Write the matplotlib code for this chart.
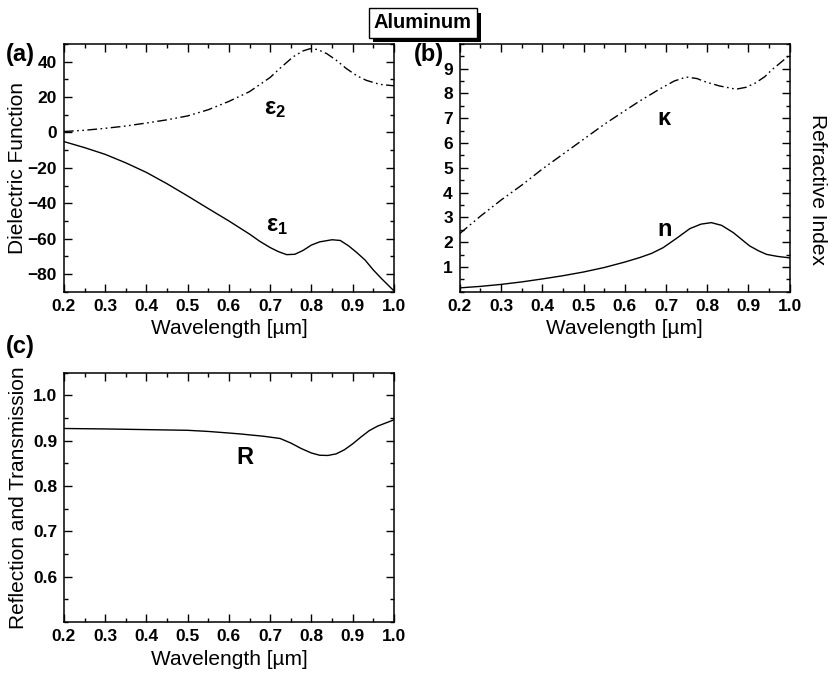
"""
Aluminum: dielectric function, refractive index and reflectance vs. wavelength.
"""

import matplotlib
matplotlib.use('Agg')
import matplotlib.pyplot as plt
import matplotlib.patheffects as pe
from matplotlib.ticker import MultipleLocator, FormatStrFormatter

plt.rcParams['font.family'] = ['Liberation Sans', 'DejaVu Sans']
plt.rcParams['mathtext.fontset'] = 'custom'
plt.rcParams['mathtext.rm'] = 'Liberation Sans'
plt.rcParams['mathtext.bf'] = 'Liberation Sans:bold'
plt.rcParams['axes.linewidth'] = 1.1

# --- Daten ---
wl_eps1 = [0.2, 0.25, 0.3, 0.35, 0.4, 0.45, 0.5, 0.55, 0.6, 0.65, 0.675, 0.7,
           0.72, 0.74, 0.76, 0.78, 0.8, 0.82, 0.85, 0.87, 0.89, 0.91, 0.93,
           0.95, 0.97, 1.0]
eps1 = [-5.2, -8.6, -12.4, -17.2, -22.6, -29.0, -35.9, -43.0, -50.0, -57.4,
        -61.5, -65.0, -67.3, -69.0, -68.8, -66.6, -63.6, -61.8, -60.6, -61.0,
        -64.0, -67.8, -72.0, -77.6, -82.5, -89.4]

wl_eps2 = [0.2, 0.25, 0.3, 0.35, 0.4, 0.45, 0.5, 0.55, 0.6, 0.65, 0.675, 0.7,
           0.723, 0.756, 0.78, 0.796, 0.815, 0.837, 0.86, 0.885, 0.91, 0.933,
           0.966, 1.0]
eps2 = [0.5, 1.2, 2.3, 3.6, 5.3, 7.1, 9.3, 12.8, 17.5, 23.0, 27.0, 31.0,
        36.0, 42.7, 46.0, 47.2, 46.8, 44.5, 40.8, 36.0, 32.0, 29.4,
        27.1, 26.3]

wl_kappa = [0.2, 0.25, 0.3, 0.35, 0.4, 0.45, 0.5, 0.55, 0.6, 0.636, 0.684,
            0.72, 0.749, 0.775, 0.797, 0.83, 0.87, 0.895, 0.918, 0.94, 0.958,
            0.975, 1.0]
kappa = [2.35, 3.05, 3.7, 4.3, 4.95, 5.55, 6.15, 6.75, 7.3, 7.69, 8.17,
         8.5, 8.66, 8.6, 8.46, 8.3, 8.17, 8.25, 8.43, 8.68, 8.97,
         9.2, 9.55]

wl_n = [0.2, 0.25, 0.3, 0.35, 0.4, 0.45, 0.5, 0.55, 0.6, 0.636, 0.665, 0.693,
        0.725, 0.758, 0.785, 0.81, 0.835, 0.863, 0.883, 0.903, 0.925, 0.944,
        0.97, 1.0]
n_idx = [0.16, 0.22, 0.3, 0.4, 0.52, 0.65, 0.8, 0.98, 1.2, 1.38, 1.55, 1.78,
         2.15, 2.55, 2.73, 2.79, 2.68, 2.39, 2.12, 1.85, 1.65, 1.51,
         1.43, 1.37]

wl_R = [0.2, 0.3, 0.4, 0.5, 0.55, 0.6, 0.627, 0.683, 0.724, 0.75, 0.775, 0.8,
        0.82, 0.84, 0.86, 0.88, 0.9, 0.92, 0.94, 0.96, 0.98, 1.0]
R = [0.927, 0.926, 0.9245, 0.923, 0.9205, 0.917, 0.915, 0.910, 0.905, 0.895,
     0.883, 0.873, 0.868, 0.8675, 0.871, 0.880, 0.893, 0.908, 0.922, 0.932,
     0.939, 0.946]

dashdotdot = (0, (7, 2.5, 1.2, 2.5, 1.2, 2.5))
lw = 1.0

fig = plt.figure(figsize=(8.33, 6.74), dpi=100)
ax_a = fig.add_axes([0.0768, 0.567, 0.396, 0.368])
ax_b = fig.add_axes([0.552, 0.567, 0.396, 0.368])
ax_c = fig.add_axes([0.0768, 0.077, 0.396, 0.370])


def style(ax):
    ax.set_xlim(0.2, 1.0)
    ax.xaxis.set_major_locator(MultipleLocator(0.1))
    ax.xaxis.set_minor_locator(MultipleLocator(0.05))
    ax.xaxis.set_major_formatter(FormatStrFormatter('%.1f'))
    ax.tick_params(which='both', direction='in', top=True, right=True,
                   width=1.0)
    ax.tick_params(which='major', length=6, labelsize=12.5, pad=5)
    ax.tick_params(which='minor', length=3)
    for lab in ax.get_xticklabels() + ax.get_yticklabels():
        lab.set_fontweight('bold')
    ax.set_xlabel('Wavelength [µm]', fontsize=15, labelpad=4)


# (a) Dielektrische Funktion
ax_a.plot(wl_eps1, eps1, color='black', lw=lw)
ax_a.plot(wl_eps2, eps2, color='black', lw=lw, linestyle=dashdotdot)
ax_a.set_ylim(-90, 50)
ax_a.set_yticks([-80, -60, -40, -20, 0, 20, 40])
ax_a.yaxis.set_minor_locator(MultipleLocator(10))
style(ax_a)
ax_a.set_ylabel('Dielectric Function', fontsize=15)
ax_a.yaxis.set_label_coords(-0.112, 0.5)
ax_a.text(0.686, 13, r'$\mathbf{ε_2}$', fontsize=17, ha='left', va='center')
ax_a.text(0.69, -53, r'$\mathbf{ε_1}$', fontsize=17, ha='left', va='center')

# (b) Brechungsindex
ax_b.plot(wl_n, n_idx, color='black', lw=lw)
ax_b.plot(wl_kappa, kappa, color='black', lw=lw, linestyle=dashdotdot)
ax_b.set_ylim(0, 10)
ax_b.set_yticks(range(1, 10))
ax_b.yaxis.set_minor_locator(MultipleLocator(0.5))
style(ax_b)
ax_b.text(0.68, 7.0, 'κ', fontsize=17, fontweight='bold', ha='left', va='center')
ax_b.text(0.68, 2.5, 'n', fontsize=17, fontweight='bold', ha='left', va='center')
fig.text(818 / 833, 1 - 190 / 674, 'Refractive Index', fontsize=15,
         rotation=-90, ha='center', va='center')

# (c) Reflexion
ax_c.plot(wl_R, R, color='black', lw=lw)
ax_c.set_ylim(0.5, 1.05)
ax_c.set_yticks([0.6, 0.7, 0.8, 0.9, 1.0])
ax_c.yaxis.set_major_formatter(FormatStrFormatter('%.1f'))
ax_c.yaxis.set_minor_locator(MultipleLocator(0.05))
style(ax_c)
ax_c.set_ylabel('Reflection and Transmission', fontsize=15)
ax_c.yaxis.set_label_coords(-0.11, 0.5)
ax_c.text(0.618, 0.863, 'R', fontsize=17, fontweight='bold', ha='left', va='center')

# Panel-Beschriftungen
fig.text(6 / 833, 1 - 55 / 674, '(a)', fontsize=17, fontweight='bold', va='center')
fig.text(414 / 833, 1 - 55 / 674, '(b)', fontsize=17, fontweight='bold', va='center')
fig.text(6 / 833, 1 - 346 / 674, '(c)', fontsize=17, fontweight='bold', va='center')

# Titel mit Schatten
title = fig.text(423 / 833, 1 - 23 / 674, 'Aluminum', fontsize=14.5,
                 fontweight='bold', ha='center', va='center', color='black',
                 bbox=dict(boxstyle='square,pad=0.25', fc='white', ec='black',
                           lw=1.0))
title.get_bbox_patch().set_path_effects([
    pe.SimplePatchShadow(offset=(3, -3), shadow_rgbFace='black', alpha=1.0),
    pe.Normal()])

fig.savefig('out.png', dpi=100)
